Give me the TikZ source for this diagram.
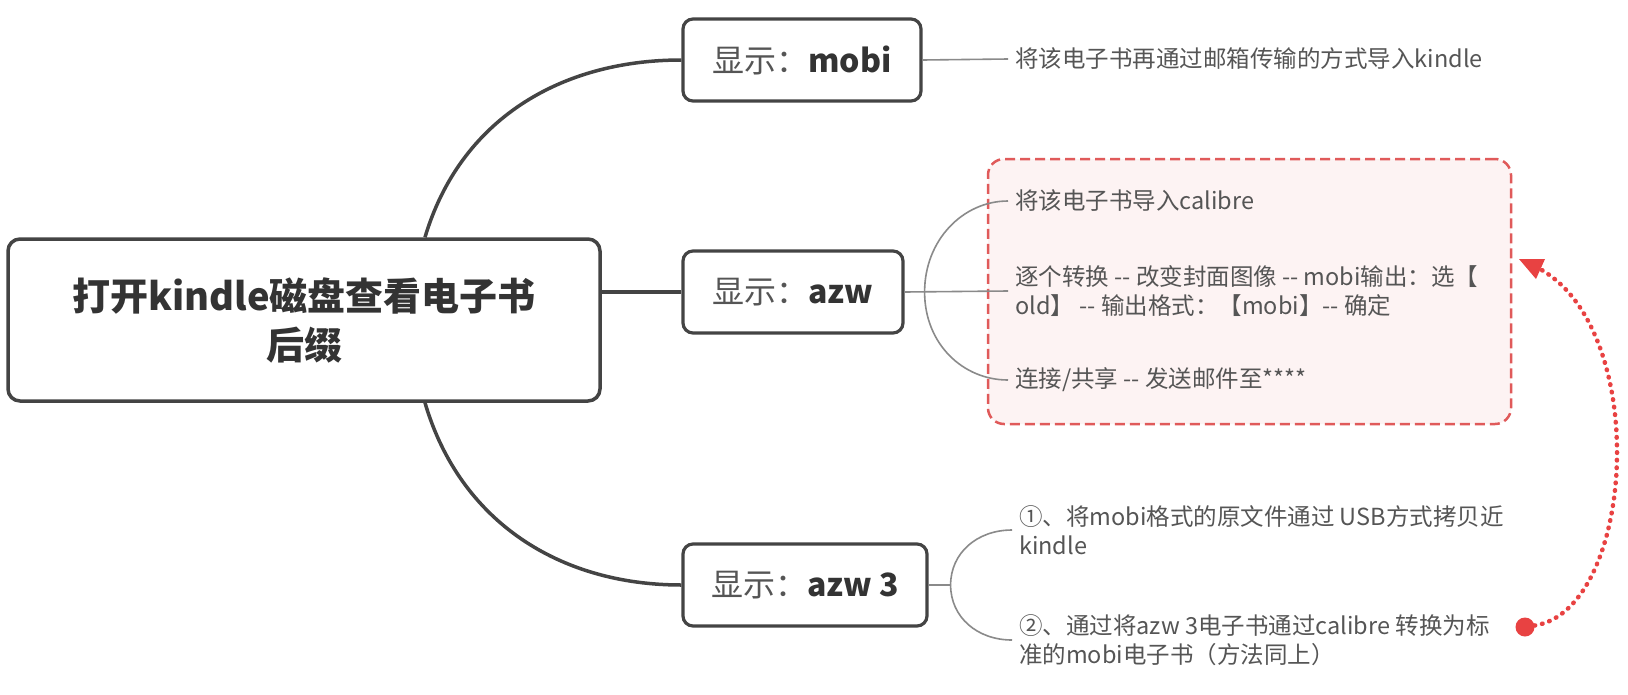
\documentclass[tikz,border=0pt]{standalone}
\usepackage{fontspec}
\setmainfont{Noto Sans CJK SC}
\usetikzlibrary{arrows.meta,calc}
\definecolor{boxline}{HTML}{444444}
\definecolor{txtdark}{HTML}{333333}
\definecolor{txtmid}{HTML}{555555}
\definecolor{twigcol}{HTML}{8A8A8A}
\definecolor{grpline}{HTML}{E05A5A}
\definecolor{grpfill}{HTML}{FDF3F3}
\definecolor{dotred}{HTML}{E84242}
\begin{document}
\begin{tikzpicture}[x=1pt,y=-1pt,
  topbox/.style={draw=boxline, line width=3.5pt, rounded corners=12pt, fill=white,
    minimum width=592pt, minimum height=162pt, align=center, inner sep=0pt,
    font=\fontsize{38}{49}\selectfont\bfseries, text=txtdark},
  subbox/.style={draw=boxline, line width=3.2pt, rounded corners=10pt, fill=white,
    minimum height=82pt, inner sep=0pt, font=\fontsize{32}{38}\selectfont, text=txtmid},
  leaf/.style={anchor=west, inner xsep=7pt, inner ysep=0pt, align=left,
    font=\fontsize{23.5}{29}\selectfont, text=txtmid},
  trunk/.style={draw=boxline, line width=3.5pt},
  twig/.style={draw=twigcol, line width=1.6pt},
  grpbox/.style={draw=grpline, fill=grpfill, line width=2.5pt, dash pattern=on 10pt off 5pt,
    rounded corners=16pt, minimum width=523pt, minimum height=265pt, inner sep=0pt},
  dotline/.style={draw=dotred, line width=4.5pt, dash pattern=on 0.6pt off 7pt, line cap=round}
]
\useasboundingbox (0,0) rectangle (1628,694);
\fill[white] (0,0) rectangle (1628,694);

% group box
\node[grpbox] (grp) at (1249.5,291.5) {};

% main nodes
\node[topbox] (root) at (304,320) {打开kindle磁盘查看电子书\\后缀};
\node[subbox, minimum width=238pt] (mobi) at (802,60) {显示：{\bfseries\color{txtdark}mobi}};
\node[subbox, minimum width=220pt] (azw) at (793,292) {显示：{\bfseries\color{txtdark}azw}};
\node[subbox, minimum width=244pt] (azwt) at (805,585) {显示：{\bfseries\color{txtdark}azw 3}};

% leaves
\node[leaf] (m1) at (1008,59) {将该电子书再通过邮箱传输的方式导入kindle};
\node[leaf] (a1) at (1008,201) {将该电子书导入calibre};
\node[leaf] (a2) at (1008,291) {逐个转换 -{}- 改变封面图像 -{}- mobi输出：选【\\old】 -{}- 输出格式：【mobi】-{}- 确定};
\node[leaf] (a3) at (1008,380) {连接/共享 -{}- 发送邮件至****};
\node[leaf] (b1) at (1012,530) {①、将mobi格式的原文件通过 USB方式拷贝近\\kindle};
\node[leaf] (b2) at (1012,640) {②、通过将azw 3电子书通过calibre 转换为标\\准的mobi电子书（方法同上）};

% trunk connectors
\draw[trunk] ([xshift=121pt]root.north) .. controls (460,120) and (560,60) .. (mobi.west);
\draw[trunk] (root.east |- azw.west) -- (azw.west);
\draw[trunk] ([xshift=121pt]root.south) .. controls (460,522) and (560,585) .. (azwt.west);

% twigs
\draw[twig] (mobi.east) -- (m1.west);
\coordinate (fa) at ([xshift=20pt]azw.east);
\draw[twig] (azw.east) -- (a2.west);
\draw[twig] (fa) .. controls +(0,-52) and +(-45,0) .. (a1.west);
\draw[twig] (fa) .. controls +(0,52) and +(-45,0) .. (a3.west);
\coordinate (fb) at ([xshift=22pt]azwt.east);
\draw[twig] (azwt.east) -- (fb);
\draw[twig] (fb) .. controls +(0,-32) and +(-35,0) .. (b1.west);
\draw[twig] (fb) .. controls +(0,32) and +(-35,0) .. (b2.west);

% red dotted link
\node[circle, fill=dotred, minimum size=19pt, inner sep=0pt] (dot) at (1525,627) {};
\coordinate (tip) at (1519,259);
\coordinate (tipbase) at (1539,268.5);
\draw[dotline] (dot) .. controls (1635,610) and (1652,330) .. (tipbase);
\fill[dotred] (tip) -- (1536,279) -- (1545,259) -- cycle;
\end{tikzpicture}
\end{document}
